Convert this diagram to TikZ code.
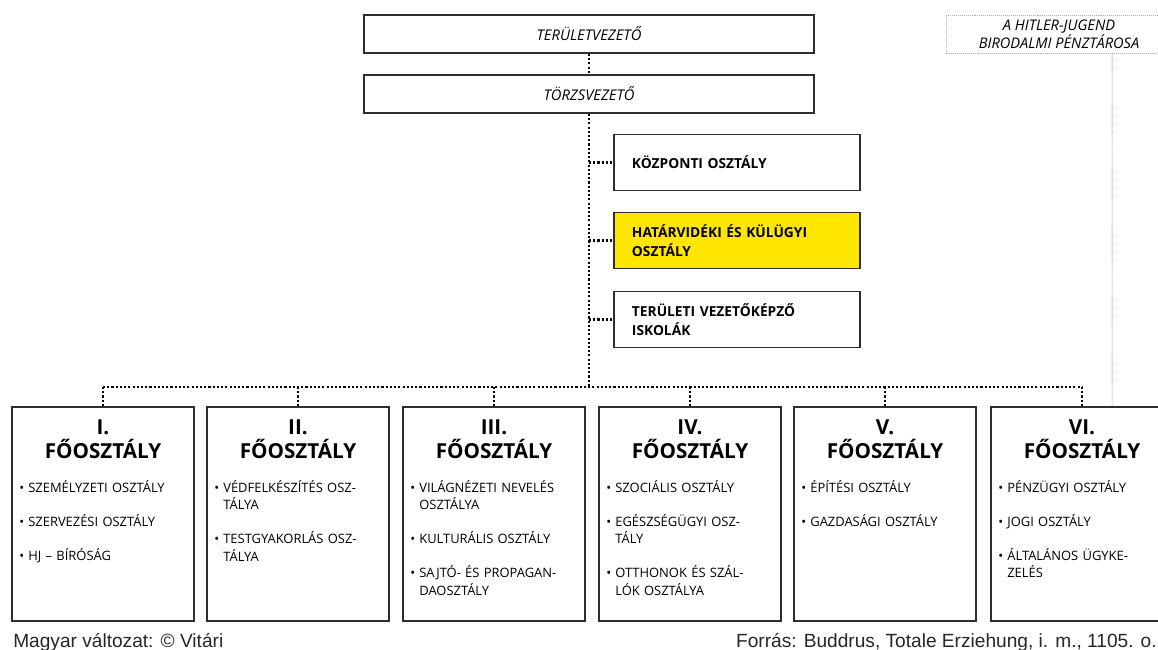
\documentclass[tikz,border=0pt]{standalone}
\usepackage{fontspec}
\setmainfont{Open Sans}
\newfontfamily\arialfont{Liberation Sans}
\usetikzlibrary{positioning}

\definecolor{hlyellow}{HTML}{FFE600}
\definecolor{boxline}{HTML}{2E2E2E}
\newcommand{\pont}{\makebox[0.225cm][l]{\textbullet}}
\newcommand{\beh}{\hspace*{0.225cm}}

\begin{document}
\begin{tikzpicture}[
    x=0.025cm, y=-0.025cm,
    topbox/.style={draw=boxline, line width=1.3pt, minimum width=11.25cm, minimum height=0.95cm, font=\fontsize{10.5}{12.8}\selectfont\itshape},
    cashbox/.style={draw=gray!65, line width=0.7pt, dash pattern=on 0.7pt off 0.7pt, minimum width=5.6cm, minimum height=0.925cm, align=center, font=\fontsize{10.4}{12.8}\selectfont\itshape},
    deptbox/.style={draw=boxline, line width=1.3pt, minimum width=6.15cm, minimum height=1.4cm, text width=5.25cm, align=left, font=\fontsize{9.8}{13.5}\selectfont\bfseries},
    mainbox/.style={draw=boxline, line width=1.3pt, minimum width=4.55cm, minimum height=5.35cm},
    head/.style={align=center, inner sep=0pt, font=\fontsize{14.7}{17}\selectfont\bfseries},
    items/.style={text width=4.2cm, align=left, inner sep=0pt, font=\fontsize{9.2}{12.45}\selectfont},
    link/.style={line width=1.6pt, dash pattern=on 1.5pt off 1.5pt},
    grayline/.style={draw=gray!65, line width=0.7pt, dash pattern=on 0.7pt off 0.7pt},
    footer/.style={inner sep=0pt, font=\arialfont\fontsize{13.6}{15}\selectfont, text=black!85}
]
\useasboundingbox (0,0) rectangle (1158,650);
\clip (0,0) rectangle (1158,650);

\node[topbox] (terulet) at (589,34) {TERÜLETVEZETŐ};
\node[topbox] (torzs) at (589,94) {TÖRZSVEZETŐ};
\node[cashbox] (penztar) at (1059,34.5) {A HITLER-JUGEND\\BIRODALMI PÉNZTÁROSA};

\node[deptbox] (kozp) at (737,162.5) {KÖZPONTI OSZTÁLY};
\node[deptbox, fill=hlyellow] (hatar) at (737,240.5) {HATÁRVIDÉKI ÉS KÜLÜGYI\\OSZTÁLY};
\node[deptbox] (iskola) at (737,319.5) {TERÜLETI VEZETŐKÉPZŐ\\ISKOLÁK};

\coordinate (bus) at (589,387);

\node[mainbox] (fo1) at (103,514) {};
\node[mainbox] (fo2) at (298,514) {};
\node[mainbox] (fo3) at (494,514) {};
\node[mainbox] (fo4) at (690,514) {};
\node[mainbox] (fo5) at (885,514) {};
\node[mainbox] (fo6) at (1082,514) {};

\node[head, below=0.325cm of fo1.north] (h1) {I.\\FŐOSZTÁLY};
\node[head, below=0.325cm of fo2.north] (h2) {II.\\FŐOSZTÁLY};
\node[head, below=0.325cm of fo3.north] (h3) {III.\\FŐOSZTÁLY};
\node[head, below=0.325cm of fo4.north] (h4) {IV.\\FŐOSZTÁLY};
\node[head, below=0.325cm of fo5.north] (h5) {V.\\FŐOSZTÁLY};
\node[head, below=0.325cm of fo6.north] (h6) {VI.\\FŐOSZTÁLY};

\node[items, below right=1.85cm and 0.2cm of fo1.north west] (l1) {\pont SZEMÉLYZETI OSZTÁLY\\[11.75pt]
  \pont SZERVEZÉSI OSZTÁLY\\[11.75pt]
  \pont HJ -- BÍRÓSÁG};
\node[items, below right=1.85cm and 0.2cm of fo2.north west] (l2) {\pont VÉDFELKÉSZÍTÉS OSZ-\\\beh TÁLYA\\[11.75pt]
  \pont TESTGYAKORLÁS OSZ-\\\beh TÁLYA};
\node[items, below right=1.85cm and 0.2cm of fo3.north west] (l3) {\pont VILÁGNÉZETI NEVELÉS\\\beh OSZTÁLYA\\[11.75pt]
  \pont KULTURÁLIS OSZTÁLY\\[11.75pt]
  \pont SAJTÓ- ÉS PROPAGAN-\\\beh DAOSZTÁLY};
\node[items, below right=1.85cm and 0.2cm of fo4.north west] (l4) {\pont SZOCIÁLIS OSZTÁLY\\[11.75pt]
  \pont EGÉSZSÉGÜGYI OSZ-\\\beh TÁLY\\[11.75pt]
  \pont OTTHONOK ÉS SZÁL-\\\beh LÓK OSZTÁLYA};
\node[items, below right=1.85cm and 0.2cm of fo5.north west] (l5) {\pont ÉPÍTÉSI OSZTÁLY\\[11.75pt]
  \pont GAZDASÁGI OSZTÁLY};
\node[items, below right=1.85cm and 0.2cm of fo6.north west] (l6) {\pont PÉNZÜGYI OSZTÁLY\\[11.75pt]
  \pont JOGI OSZTÁLY\\[11.75pt]
  \pont ÁLTALÁNOS ÜGYKE-\\\beh ZELÉS};

% dotted chain of command
\draw[link] (terulet) -- (torzs);
\draw[link] (torzs) -- (bus);
\draw[link] (kozp.west -| bus) -- (kozp);
\draw[link] (hatar.west -| bus) -- (hatar);
\draw[link] (iskola.west -| bus) -- (iskola);
\draw[link] (fo1.north |- bus) -- (fo6.north |- bus);
\draw[link] (fo1.north |- bus) -- (fo1.north);
\draw[link] (fo2.north |- bus) -- (fo2.north);
\draw[link] (fo3.north |- bus) -- (fo3.north);
\draw[link] (fo4.north |- bus) -- (fo4.north);
\draw[link] (fo5.north |- bus) -- (fo5.north);
\draw[link] (fo6.north |- bus) -- (fo6.north);
\draw[grayline] ([xshift=1.325cm]penztar.south) -- ([xshift=0.75cm]fo6.north);

\node[footer, anchor=base west] (magyar) at (13,647) {Magyar változat: © Vitári};
\node[footer, anchor=base east] (forras) at (1157,647) {Forrás: Buddrus, Totale Erziehung, i. m., 1105. o.};
\end{tikzpicture}
\end{document}
